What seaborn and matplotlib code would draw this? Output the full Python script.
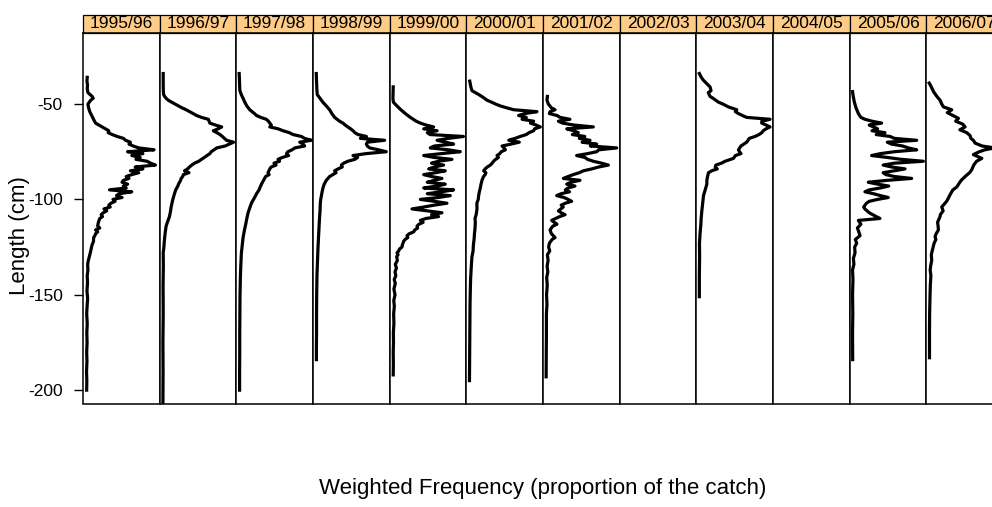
import pandas as pd
import matplotlib.pyplot as plt
import seaborn as sns
from matplotlib.patches import Rectangle

# Seasons shown as panels (2002/03 and 2004/05 have no data)
seasons = ["1995/96", "1996/97", "1997/98", "1998/99", "1999/00", "2000/01",
           "2001/02", "2002/03", "2003/04", "2004/05", "2005/06", "2006/07"]

# Length (cm) and weighted frequency (per mille of catch)
len_9596 = [36, 38, 40, 42, 44, 46, 47, 48, 50, 52, 54, 56, 58, 60, 62, 64, 65, 66, 67, 68,
            69, 70, 71, 72, 73, 74, 75, 76, 77, 78, 79, 80, 81, 82, 83, 84, 85, 86, 87, 88,
            89, 90, 91, 92, 93, 94, 95, 96, 97, 98, 99, 100, 101, 102, 103, 104, 105, 106, 107, 108,
            109, 110, 112, 114, 115, 116, 117, 118, 119, 120, 122, 124, 126, 128, 130, 132, 134, 137, 140, 144,
            148, 152, 155, 160, 165, 170, 175, 180, 185, 190, 195, 200]
frq_9596 = [1.0, 0.8, 1.2, 1.0, 1.5, 4.5, 5.3, 3.5, 1.5, 2.0, 2.8, 4.2, 5.5, 7.0, 11.7, 16.5, 16.0, 19, 22.5, 27,
            28.5, 32, 31, 34, 38, 49, 30, 41, 33, 39, 36, 44, 46.5, 50, 35.5, 41, 32, 38, 33, 29,
            31, 27, 26, 30, 27, 29, 17, 33, 24, 22, 26, 19.5, 21, 18, 16.5, 17.5, 13, 15, 12.5, 11,
            12, 10, 9, 8.5, 10, 7, 8.5, 7, 6.5, 5.6, 5.5, 4.4, 3.8, 3.2, 2.5, 1.8, 1.3, 1.5, 1.0, 1.2,
            0.8, 1.3, 1.0, 0.6, 1.0, 0.7, 0.9, 0.6, 0.8, 0.5, 0.7, 0.6]

len_9697 = [34, 37, 40, 43, 45, 46, 47, 48, 49, 50, 51, 52, 53, 54, 55, 56, 57, 58, 59, 60,
            61, 62, 63, 64, 65, 66, 67, 68, 69, 70, 71, 72, 73, 74, 75, 76, 77, 78, 79, 80,
            81, 82, 83, 84, 85, 86, 87, 88, 89, 90, 92, 93, 95, 97, 99, 100, 102, 104, 106, 109,
            112, 114, 117, 121, 125, 128, 135, 145, 160, 175, 190, 207]
frq_9697 = [0.5, 0.5, 0.5, 0.6, 0.8, 1.5, 2.6, 4.1, 6.5, 9, 11.5, 14, 17, 19.5, 22, 24.5, 28, 32.9, 33.5, 34,
            38, 42.5, 40, 36.5, 39, 41.3, 43, 44.5, 46, 51, 48, 45, 39, 37, 35, 34, 32, 30, 28, 26,
            23, 21, 19.4, 18, 15.8, 19, 15, 14.5, 13.4, 13, 11.5, 11, 9.5, 8.6, 7.8, 7.4, 6.8, 6.2, 5.8, 5.0,
            3.5, 2.6, 2.0, 1.4, 1.0, 0.5, 0.6, 0.4, 0.5, 0.3, 0.4, 0.3]

len_9798 = [34, 37, 40, 43, 45, 47, 49, 51, 53, 55, 56, 57, 58, 59, 60, 61, 62, 63, 64, 65,
            66, 67, 68, 69, 70, 71, 72, 73, 74, 75, 76, 77, 78, 79, 80, 81, 82, 83, 84, 86,
            87, 88, 90, 92, 94, 95, 97, 99, 101, 102, 104, 107, 110, 113, 116, 120, 124, 128, 134, 140,
            150, 160, 170, 180, 190, 200]
frq_9798 = [0, 0.2, 0.3, 0.5, 1.5, 2.8, 4.0, 5.5, 7.6, 11, 12.4, 15.5, 19.5, 21, 22, 23.1, 22, 28, 31.5, 36,
            38.7, 44.7, 47, 51.9, 43.5, 46, 47, 40, 38, 35, 34, 35.5, 31, 27.9, 29, 25, 26.5, 23, 22, 20.7,
            21.5, 19, 17.5, 16, 14.8, 14.3, 12.5, 11.1, 9.5, 8.8, 7.8, 6.4, 5.5, 4.7, 3.8, 2.8, 2.2, 1.6, 1.2, 0.9,
            0.6, 0.5, 0.4, 0.4, 0.3, 0.3]

len_9899 = [34, 38, 42, 45, 47, 49, 51, 53, 55, 57, 59, 60, 61, 62, 63, 64, 65, 66, 67, 68,
            69, 70, 71, 72, 73, 74, 75, 76, 77, 78, 79, 80, 81, 82, 83, 84, 85, 86, 88, 90,
            92, 94, 96, 98, 100, 102, 106, 109, 113, 116, 120, 126, 132, 140, 150, 160, 170, 178, 184]
frq_9899 = [0.3, 0.5, 0.7, 1.0, 3.0, 5.0, 7.5, 9.9, 11.5, 13.5, 17, 19.5, 21, 23, 25, 26.7, 28, 30.3, 36.3, 32,
            49.4, 37, 36.3, 37, 38.7, 45, 50.6, 36, 26.7, 30, 28, 23, 20, 18.3, 19, 16, 13.5, 14.5, 9.9, 7.5,
            6, 5.1, 4.5, 4.0, 3.5, 3.2, 3.0, 2.7, 2.4, 2.2, 1.9, 1.5, 1.2, 0.8, 0.6, 0.5, 0.5, 0.4, 0.4]

len_9900 = [41, 44, 47, 49, 51, 53, 55, 57, 59, 60, 61, 62, 63, 64, 65, 66, 67, 68, 69, 70,
            71, 72, 73, 74, 75, 76, 77, 78, 79, 80, 81, 82, 83, 84, 85, 86, 87, 88, 89, 90,
            91, 92, 93, 94, 95, 96, 97, 98, 99, 100, 101, 102, 103, 104, 105, 106, 107, 108, 109, 110,
            111, 112, 113, 114, 115, 116, 117, 118, 119, 120, 121, 122, 124, 125, 126, 127, 128, 129, 130, 132,
            134, 136, 138, 140, 142, 144, 147, 150, 153, 156, 160, 165, 170, 175, 180, 186, 192]
frq_9900 = [0.5, 0.4, 0.3, 0.6, 3.2, 6, 9.2, 12.8, 17, 20, 24, 29.5, 22.4, 32, 25, 27, 51, 40, 32, 38,
            43.9, 30, 27.1, 40, 48.7, 35, 22.4, 30, 42.7, 33, 28, 36.7, 30, 26, 37.9, 31, 22.4, 28, 35.5, 30,
            25, 37.9, 32, 22.4, 43.9, 35, 25, 41.5, 33, 20, 30, 39.1, 30, 22.4, 14, 25, 35.5, 28, 33.1, 24,
            20, 22, 19, 17.6, 18, 16, 15.2, 12, 10.4, 11, 9, 8, 7, 6.8, 5, 4.5, 3.2, 4.0, 3.0, 3.5,
            2.0, 2.8, 1.8, 2.4, 1.2, 2.0, 1.0, 1.8, 0.9, 1.3, 0.8, 1.0, 0.6, 0.7, 0.5, 0.6, 0.5]

len_0001 = [38, 41, 43, 45, 46, 47, 48, 49, 50, 51, 52, 53, 54, 55, 56, 57, 58, 59, 60, 61,
            62, 63, 64, 65, 66, 67, 68, 69, 70, 71, 72, 73, 74, 75, 76, 77, 78, 79, 80, 81,
            82, 83, 84, 85, 86, 87, 88, 90, 92, 94, 96, 98, 100, 102, 105, 108, 110, 112, 115, 118,
            121, 124, 127, 130, 134, 138, 142, 148, 155, 165, 175, 185, 195]
frq_0001 = [0.4, 1.2, 2.0, 6.8, 9, 11, 12.8, 16, 19, 22.4, 27, 32, 48.7, 40, 35.5, 41, 38, 46.3, 44, 48,
            51.1, 47, 46.3, 43, 41, 36.7, 33, 28.4, 36, 30, 23.6, 25, 26, 23, 22, 20, 21, 19, 17.5, 16.5,
            15.2, 13, 11.5, 10.4, 12, 11.5, 10.3, 9.2, 8.5, 8, 7.3, 6.8, 6.5, 5.5, 5.6, 5.0, 4.2, 4.4, 4.2, 3.8,
            3.5, 3.0, 2.8, 2.0, 1.6, 1.3, 1.0, 0.8, 0.6, 0.5, 0.4, 0.3, 0.2]

len_0102 = [46, 48, 50, 52, 53, 54, 55, 56, 57, 58, 59, 60, 61, 62, 63, 64, 65, 66, 67, 68,
            69, 70, 71, 72, 73, 74, 75, 76, 77, 78, 79, 80, 81, 82, 83, 84, 85, 86, 87, 88,
            89, 90, 91, 92, 93, 94, 95, 96, 97, 98, 99, 100, 101, 102, 103, 104, 106, 107, 108, 109,
            110, 111, 112, 113, 114, 116, 118, 120, 121, 123, 125, 127, 129, 132, 135, 138, 141, 145, 150, 155,
            160, 170, 180, 193]
frq_0102 = [1.1, 0.8, 1.8, 4, 6.6, 3, 2.5, 8, 10.2, 17.3, 9, 12, 20, 34.1, 15, 20, 23.3, 19, 28, 24,
            31.7, 26, 36.5, 32, 50.9, 38, 36.5, 30, 22.1, 28, 30, 34.1, 40, 44.9, 38, 33, 27, 24, 19.7, 16,
            12.6, 24.5, 18, 15, 20.9, 16, 14, 17, 11, 7.8, 13, 16, 18.5, 14, 11, 12.5, 9.0, 11, 13.8, 10,
            7, 4.2, 6, 8, 5, 3.0, 4, 6.6, 4.5, 2.5, 2.0, 2.8, 1.1, 1.6, 0.9, 1.4, 0.6, 1.0, 0.5, 0.8,
            0.4, 0.4, 0.3, 0.2]

len_0304 = [34, 36, 37.5, 39, 41, 43, 44, 46, 47, 49, 50, 51.5, 53, 54, 55, 56, 57, 58, 59, 60,
            61, 62, 63, 64, 65, 66, 67, 68, 70, 71, 72, 74, 75, 76, 77, 78.5, 80, 81, 82, 83,
            84, 85, 86, 88, 90, 92, 95, 98, 102, 106, 110, 113, 118, 123, 130, 140, 151]
frq_0304 = [0.1, 1.5, 3, 5, 7.8, 8.5, 6.5, 7.8, 10, 13.8, 17, 21, 27, 26, 28.2, 31, 34.1, 50.9, 45, 44.9,
            48, 50.9, 48, 46, 44.9, 43, 40.1, 36, 34.1, 32, 30, 28.2, 29, 30, 26, 24.6, 18.6, 16, 12, 11.5,
            13, 9, 6.7, 6, 5.5, 5.5, 4.3, 3.1, 2.5, 1.9, 1.4, 1.2, 0.6, 0.2, 0.3, 0.1, 0.1]

len_0506 = [43.5, 46, 49, 52, 55, 57, 58, 59, 60, 61, 62, 63, 64, 65, 66, 67, 68, 69, 70, 71,
            72, 73, 74, 75, 76, 77, 78, 79, 80, 81, 82, 83, 84, 85, 86, 87, 88, 89, 90, 91,
            92, 93, 94, 95, 96, 97, 98, 99, 100, 101, 102, 104, 105, 107, 109, 110, 111, 113, 115, 117,
            119, 121, 123, 125, 128, 131, 134, 137, 142, 150, 160, 170, 184]
frq_0506 = [0, 0.5, 1.3, 2.5, 4.2, 6, 8.9, 14, 20.9, 12, 15, 18, 14, 23.3, 17, 27, 30, 46.1, 25, 28,
            36, 40, 46.1, 30, 20, 13.7, 25, 35, 50.9, 30, 22, 28, 37.7, 30, 22, 24, 30, 42.5, 25, 11.3,
            18, 26, 20, 12, 8.9, 15, 20, 25.7, 18, 12, 10, 8, 8.9, 12, 17, 19.7, 4.2, 6, 3.5, 4.5,
            5.4, 2, 3, 1.5, 1.8, 0.6, 1.0, 0, 0.3, 0, 0.2, 0, 0.1]

len_0607 = [39, 41, 43.5, 46, 48, 50, 51.5, 53, 54.5, 56, 57.5, 59, 60.5, 62, 63.5, 65, 66.5, 68, 69, 70.5,
            72, 73, 74, 75, 76.5, 78.5, 80, 82, 84.5, 86, 88, 90, 91, 93.5, 95, 97.5, 99, 101, 104, 106,
            108, 109, 112, 114, 116, 118, 119.5, 121, 123, 126.5, 129, 132, 135, 137, 140, 145, 150, 160, 170, 183]
frq_0607 = [0, 1.5, 3.1, 5.5, 7.8, 9, 10.2, 16.2, 13, 17, 21, 19, 24, 25.8, 22, 27, 29.3, 30, 31.7, 33,
            38, 47, 40, 36, 31.7, 37.8, 34, 32, 30.5, 29, 25.8, 23, 22, 19.8, 17, 15, 14, 12.5, 9, 10,
            8, 7.8, 6, 6.4, 6.6, 5, 4.2, 4.8, 3.5, 2.3, 1.5, 1.8, 1.0, 0.7, 1.2, 0.8, 0.6, 0.3, 0.2, 0.2]

series = [("1995/96", len_9596, frq_9596), ("1996/97", len_9697, frq_9697),
          ("1997/98", len_9798, frq_9798), ("1998/99", len_9899, frq_9899),
          ("1999/00", len_9900, frq_9900), ("2000/01", len_0001, frq_0001),
          ("2001/02", len_0102, frq_0102), ("2003/04", len_0304, frq_0304),
          ("2005/06", len_0506, frq_0506), ("2006/07", len_0607, frq_0607)]

rows = []
for season, lens, frqs in series:
    for l, f in zip(lens, frqs):
        rows.append((season, -l, f))
df = pd.DataFrame(rows, columns=["season", "length", "freq"])

plt.rcParams["font.family"] = ["Liberation Sans", "DejaVu Sans"]
plt.rcParams["axes.unicode_minus"] = False

g = sns.FacetGrid(df, col="season", col_order=seasons, sharex=True, sharey=True,
                  despine=False, height=4, aspect=0.2)
g.map_dataframe(sns.lineplot, x="freq", y="length", sort=False, estimator=None,
                color="black", linewidth=2.3)
g.set_axis_labels("", "")
g.set_titles("")

fig = g.figure
fig.set_size_inches(9.92, 5.07)

# lattice-like layout: panels side by side, last one runs off the right edge
left, bottom = 83 / 992, 1 - 403.5 / 507
pw, ph = 76.67 / 992, 370.8 / 507
strip_h = 17.7 / 370.8

for i, (ax, season) in enumerate(zip(g.axes.flat, seasons)):
    ax.set_position([left + i * pw, bottom, pw, ph])
    ax.set_xlim(-2.04, 53.04)
    ax.set_ylim(-207, -12.6)
    ax.set_xticks([])
    for sp in ax.spines.values():
        sp.set_color("black")
        sp.set_linewidth(1.1)
    if i == 0:
        ax.set_yticks([-50, -100, -150, -200])
        ax.tick_params(axis="y", length=6.5, width=1, pad=8, labelsize=12.5, left=True)
        for lab in ax.get_yticklabels():
            lab.set_visible(True)
    else:
        ax.tick_params(axis="y", left=False, labelleft=False)
    ax.add_patch(Rectangle((0, 1), 1, strip_h, transform=ax.transAxes, clip_on=False,
                           facecolor="#FFCC88", edgecolor="black", linewidth=0.9))
    ax.text(0.5, 1 + strip_h / 2, season, transform=ax.transAxes, ha="center",
            va="center", fontsize=12.5)

fig.text(20 / 992, 1 - 236 / 507, "Length (cm)", rotation=90, ha="center",
         va="center", fontsize=16)
fig.text(542.5 / 992, 1 - 494 / 507, "Weighted Frequency (proportion of the catch)",
         ha="center", va="baseline", fontsize=16)

fig.savefig("out.png", dpi=100)
